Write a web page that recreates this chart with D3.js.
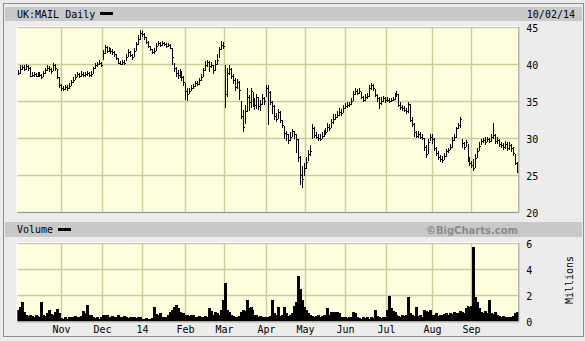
<!DOCTYPE html>
<html>
<head>
<meta charset="utf-8">
<script src="https://cdn.jsdelivr.net/npm/d3@7"></script>
<style>
  body { margin: 0; background: #ececec; }
  svg { display: block; }
  text { font-family: "DejaVu Sans Mono", monospace; font-size: 10px; fill: #000; }
</style>
</head>
<body>
<div id="chart"></div>
<script>
// trading calendar (LSE holidays in range)
var startDate = "2013-10-02", endDate = "2014-10-02";
var holidays = ["2013-12-25", "2013-12-26", "2014-01-01", "2014-04-18", "2014-04-21",
  "2014-05-05", "2014-05-26", "2014-08-25"];

// daily close, by month (Oct 13 .. Oct 14)
var closes = [
  38.8,39.3,39.6,39.3,39.7,39.5,38.4,38.5,38.6,38.4,38.7,38.5,38.3,38.8,39.2,39.5,39.3,39.0,39.8,39.4,38.2,37.2,
  36.8,36.6,36.9,36.7,37.0,37.6,37.9,38.2,38.6,38.4,38.7,38.5,38.6,38.8,38.5,38.6,39.4,39.8,40.0,40.2,39.9,
  41.5,42.3,41.8,42.0,41.7,41.6,41.4,40.8,40.2,40.0,40.3,40.1,41.0,41.6,41.2,40.9,41.8,42.7,43.4,44.2,
  44.0,43.6,43.0,42.4,42.0,41.6,41.8,42.5,42.9,42.6,42.9,42.7,42.4,42.6,42.2,41.0,39.5,38.8,38.5,38.9,38.2,37.6,
  36.4,36.0,36.4,36.8,37.0,37.4,37.3,37.8,38.3,39.2,39.9,40.3,39.7,39.9,39.2,40.0,40.6,42.0,42.6,42.4,
  36.0,38.8,39.3,38.4,37.9,36.9,37.6,36.5,33.0,31.5,33.6,35.6,34.8,36.4,35.4,34.5,35.5,34.3,34.6,35.4,35.0,
  36.8,36.2,34.9,34.3,33.0,32.6,33.5,32.4,31.8,30.7,30.5,29.7,30.2,30.9,30.5,29.8,27.4,25.0,24.4,26.0,
  26.8,27.8,28.3,31.4,30.4,30.2,30.0,29.9,30.3,30.6,30.8,31.5,31.3,32.1,32.6,32.9,33.1,33.5,33.4,34.0,
  34.3,34.5,34.6,35.0,35.9,36.4,36.1,36.3,35.5,35.2,35.6,35.7,36.7,37.2,36.7,35.8,35.4,34.7,35.0,35.4,35.1,
  35.2,35.0,35.1,35.3,35.7,36.0,34.5,34.2,34.0,33.8,33.6,34.6,32.5,31.9,30.8,30.3,30.5,30.2,30.0,28.8,27.8,29.4,30.2,
  29.8,28.6,28.0,27.4,27.2,27.0,27.6,28.2,28.4,28.8,29.7,30.2,31.3,31.7,32.6,29.3,28.8,29.4,27.1,26.6,
  26.4,26.0,27.3,28.3,28.9,29.6,29.7,29.5,29.9,29.6,30.1,30.4,29.6,29.7,29.2,29.0,28.8,29.2,28.6,29.0,28.6,28.0,
  26.6,25.6
];
var highs = [
  39.2,39.8,39.9,39.8,40.0,39.9,39.6,38.9,38.9,38.8,38.9,38.9,38.7,39.0,39.5,39.8,39.7,39.4,40.1,40.0,39.3,38.3,
  37.3,37.0,37.2,37.1,37.4,37.9,38.3,38.6,38.9,38.8,39.0,38.9,38.9,39.1,38.9,39.0,39.6,40.1,40.3,40.5,40.3,
  41.9,42.6,42.4,42.3,42.1,42.0,41.8,41.4,40.8,40.4,40.6,40.5,41.3,42.0,41.8,41.4,42.2,43.0,43.9,44.6,
  44.5,44.2,43.6,43.1,42.5,42.0,42.2,42.8,43.1,43.0,43.1,43.0,42.9,42.9,42.7,42.2,40.2,39.6,39.2,39.3,39.0,38.4,
  37.4,36.8,36.8,37.2,37.3,37.7,37.7,38.1,38.6,39.4,40.4,40.6,40.4,40.3,39.9,40.5,41.4,42.3,43.1,43.0,
  39.9,39.4,39.9,39.5,38.6,38.1,38.0,37.7,35.0,33.8,34.4,36.7,35.8,36.7,36.2,35.4,36.0,35.6,35.2,35.9,35.6,
  37.2,37.1,36.3,35.0,34.4,33.4,33.9,33.6,32.5,31.6,31.0,30.5,30.8,31.2,31.0,30.6,29.8,27.6,26.2,26.6,
  27.4,28.4,29.0,31.9,31.5,30.8,30.6,30.5,30.8,31.1,31.3,32.0,31.9,32.6,33.3,33.2,33.6,34.0,33.9,34.4,
  34.7,34.9,34.9,35.4,36.4,36.8,36.6,36.8,36.2,35.7,36.0,36.1,37.1,37.5,37.3,36.6,35.9,35.6,35.5,35.7,35.6,
  35.6,35.4,35.4,35.6,36.1,36.3,36.0,34.8,34.5,34.3,34.0,34.9,34.6,32.9,32.0,31.0,30.9,30.8,30.6,30.0,29.0,29.8,30.6,
  30.5,30.0,28.8,28.3,27.7,27.6,28.0,28.5,28.7,29.2,30.2,30.6,31.5,32.0,32.8,29.9,29.5,29.7,29.2,27.4,
  26.9,27.2,27.8,28.6,29.4,29.9,30.0,30.1,30.2,30.0,30.6,32.0,30.5,30.1,29.8,29.5,29.3,29.6,29.4,29.4,29.2,28.8,
  27.8,26.8
];
var lows = [
  38.5,38.7,39.2,39.0,39.2,39.0,38.2,38.2,38.3,38.2,38.3,38.2,38.0,38.2,38.6,39.0,38.9,38.7,39.0,39.0,38.0,36.8,
  36.4,36.3,36.5,36.4,36.6,37.0,37.5,37.9,38.2,38.1,38.3,38.2,38.3,38.4,38.2,38.3,38.6,39.3,39.6,39.8,39.6,
  40.5,41.4,41.5,41.6,41.4,41.2,41.0,40.6,40.0,39.8,39.9,39.8,40.4,40.9,40.9,40.6,40.9,41.8,42.6,43.3,
  43.6,43.3,42.7,42.2,41.7,41.3,41.4,41.7,42.4,42.3,42.5,42.4,42.2,42.3,42.0,39.8,38.9,38.2,38.0,38.1,37.7,37.0,
  35.2,35.0,35.9,36.3,36.6,36.9,37.0,37.2,37.7,38.2,39.0,39.6,38.9,39.4,38.6,39.0,39.8,40.8,41.9,42.0,
  34.0,35.6,38.5,38.0,37.3,36.4,36.6,35.2,32.6,30.8,31.9,33.5,33.6,34.0,34.2,33.8,33.9,33.8,33.7,34.4,34.5,
  35.6,31.8,34.4,33.2,32.4,32.2,32.6,32.0,31.4,29.9,29.6,29.2,29.6,30.1,29.8,28.0,26.8,23.6,23.2,24.8,
  25.8,26.9,27.6,29.9,30.0,29.8,29.6,29.6,29.9,30.1,30.4,30.8,30.9,31.4,31.9,32.4,32.7,33.0,33.0,33.4,
  33.9,34.0,34.2,34.5,35.0,35.8,35.8,35.9,35.3,34.9,35.0,35.3,35.6,36.5,36.4,35.5,34.8,33.9,34.5,34.8,34.7,
  34.8,34.7,34.8,35.0,35.2,35.5,34.2,33.8,33.6,33.5,33.3,33.4,32.1,31.5,30.2,30.0,30.0,29.8,29.7,28.2,27.3,27.9,29.6,
  29.2,28.3,27.6,27.0,26.7,26.6,27.0,27.4,28.0,28.4,28.6,29.6,30.0,31.2,31.3,28.7,28.4,28.8,26.8,26.2,
  25.9,25.6,26.0,27.3,28.3,29.1,29.3,29.1,29.4,29.3,29.5,29.8,29.2,29.2,28.8,28.6,28.4,28.5,28.3,28.4,28.1,27.6,
  26.3,25.3
];
// daily volume, millions
var volumes = [
  0.85,1.1,1.5,0.7,0.5,0.4,0.45,0.4,0.35,0.45,0.4,0.35,1.5,0.5,0.4,0.65,0.85,0.55,0.5,0.7,0.95,0.6,
  0.25,0.2,0.3,0.2,0.3,0.35,0.3,0.4,0.35,0.3,0.4,0.8,0.6,1.25,0.5,0.45,0.3,0.25,0.3,0.2,0.3,
  0.5,0.45,0.5,0.3,0.35,0.4,0.3,0.35,0.45,0.3,0.35,0.4,0.3,0.25,0.3,0.35,0.3,0.25,0.35,0.3,
  0.2,0.2,0.25,0.2,0.2,0.25,1.1,0.55,0.5,0.6,0.35,0.3,0.35,0.5,0.7,0.9,1.1,1.25,1.05,0.7,0.5,0.6,
  0.45,0.5,0.4,0.45,0.5,0.35,0.3,0.4,0.35,0.3,0.4,0.3,1.0,0.8,0.5,0.7,0.6,0.5,0.9,1.6,
  2.9,0.9,0.7,0.5,0.4,0.35,0.3,0.4,0.75,0.9,0.8,1.6,1.0,1.1,0.9,0.5,0.45,0.35,0.4,0.3,0.35,
  0.3,0.35,0.4,1.6,0.6,0.5,1.1,0.4,0.45,1.1,0.6,0.4,0.45,0.6,1.2,1.5,3.45,2.5,1.6,1.1,
  0.9,0.6,0.5,0.4,0.35,0.4,0.45,0.35,0.4,0.5,0.4,1.0,0.5,0.7,0.75,0.7,0.75,0.6,0.3,0.3,
  0.3,0.25,0.3,0.35,0.7,0.6,0.35,0.25,0.2,0.3,0.25,0.3,0.2,0.3,0.25,0.9,0.4,0.3,0.25,0.3,0.35,
  0.85,1.95,1.0,0.8,0.7,0.5,0.4,0.35,0.45,0.4,0.5,1.9,0.6,0.5,0.4,1.1,0.4,0.5,0.35,0.9,0.8,0.7,0.85,
  0.5,0.45,0.6,0.4,0.5,0.45,0.55,0.6,0.5,0.6,0.55,0.7,0.65,0.6,0.8,0.75,0.6,1.0,1.2,1.1,
  1.2,5.7,1.9,1.5,1.0,0.7,0.6,0.8,0.6,1.6,0.6,0.55,0.7,0.5,0.4,0.35,0.4,0.3,0.35,0.3,0.35,0.4,
  0.6,0.7
];
var monthLabels = ["Nov", "Dec", "14", "Feb", "Mar", "Apr", "May", "Jun", "Jul", "Aug", "Sep"];
var priceTicks = [20, 25, 30, 35, 40, 45];
var volTicks = [0, 2, 4, 6];

var W = 585, H = 341;
var plotL = 17.3, plotR = 518.3;
var priceTop = 27, priceBot = 212;
var volTop = 243, volBot = 321.3;

// build trading days
var fmt = d3.timeFormat("%Y-%m-%d");
var parse = d3.timeParse("%Y-%m-%d");
var days = d3.timeDay.range(parse(startDate), d3.timeDay.offset(parse(endDate), 1))
  .filter(function(d) { return d.getDay() != 0 && d.getDay() != 6 && holidays.indexOf(fmt(d)) < 0; });

var data = days.map(function(d, i) {
  return { date: d, key: fmt(d), close: closes[i], high: highs[i], low: lows[i], vol: volumes[i] };
});

var svg = d3.select("#chart").append("svg")
  .attr("width", W)
  .attr("height", H);

// frame and bands
svg.append("rect").attr("x", 3.5).attr("y", 3.5).attr("width", 580).attr("height", 333)
  .attr("fill", "#ececec").attr("stroke", "#8c8c8c");
svg.append("rect").attr("x", 5).attr("y", 7).attr("width", 577).attr("height", 14).attr("fill", "#c9c9c9");
svg.append("rect").attr("x", 5).attr("y", 222).attr("width", 577).attr("height", 15).attr("fill", "#c9c9c9");

var x = d3.scaleBand()
  .domain(data.map(function(d) { return d.key; }))
  .range([plotL, plotR]);
var bw = x.bandwidth();

var y = d3.scaleLinear().domain([20, 45]).range([priceBot, priceTop]);
var yv = d3.scaleLinear().domain([0, 6]).range([volBot, volTop]);

// first trading day of each month after the first
var monthStarts = data.filter(function(d, i) {
  return i > 0 && d.date.getMonth() != data[i - 1].date.getMonth() && d.date < parse("2014-09-30");
});

function panel(top, bot, yScale, ticks) {
  var g = svg.append("g");
  g.append("rect")
    .attr("x", plotL).attr("y", top)
    .attr("width", plotR - plotL).attr("height", bot - top)
    .attr("fill", "#ffffe0");
  g.selectAll(".hgrid").data(ticks).enter().append("line")
    .attr("x1", plotL).attr("x2", plotR)
    .attr("y1", function(d) { return Math.round(yScale(d)) + 0.5; })
    .attr("y2", function(d) { return Math.round(yScale(d)) + 0.5; })
    .attr("stroke", "#cccc99").attr("stroke-width", 1.5);
  g.selectAll(".vgrid").data(monthStarts).enter().append("line")
    .attr("x1", function(d) { return Math.round(x(d.key)) + 0.5; })
    .attr("x2", function(d) { return Math.round(x(d.key)) + 0.5; })
    .attr("y1", top).attr("y2", bot)
    .attr("stroke", "#cccc99").attr("stroke-width", 1.5);
  return g;
}

panel(priceTop, priceBot, y, priceTicks);
panel(volTop, volBot, yv, volTicks);

// price bars (high-low with close tick)
var bars = svg.append("g").attr("stroke", "#000").attr("stroke-width", 1).attr("shape-rendering", "crispEdges");
bars.selectAll(".hl").data(data).enter().append("line")
  .attr("x1", function(d) { return Math.floor(x(d.key) + bw / 2) + 0.5; })
  .attr("x2", function(d) { return Math.floor(x(d.key) + bw / 2) + 0.5; })
  .attr("y1", function(d) { return y(d.high); })
  .attr("y2", function(d) { return y(d.low); });
bars.selectAll(".cl").data(data).enter().append("line")
  .attr("x1", function(d) { return Math.floor(x(d.key) + bw / 2); })
  .attr("x2", function(d) { return Math.floor(x(d.key) + bw / 2) + 2; })
  .attr("y1", function(d) { return Math.round(y(d.close)) + 0.5; })
  .attr("y2", function(d) { return Math.round(y(d.close)) + 0.5; });

// volume as solid columns, no gaps
svg.append("g").attr("shape-rendering", "crispEdges")
  .selectAll("rect").data(data).enter().append("rect")
  .attr("x", function(d) { return Math.floor(x(d.key)); })
  .attr("width", function(d) { return Math.ceil(x(d.key) + bw) - Math.floor(x(d.key)); })
  .attr("y", function(d) { return Math.round(yv(d.vol)); })
  .attr("height", function(d) { return volBot - Math.round(yv(d.vol)); })
  .attr("fill", "#000");

// panel borders
[[priceTop, priceBot], [volTop, volBot]].forEach(function(p) {
  svg.append("path")
    .attr("d", "M" + plotL + "," + (p[1] + 0.5) + "H" + (plotR + 0.5) + "V" + p[0])
    .attr("fill", "none").attr("stroke", "#999");
  svg.append("path")
    .attr("d", "M" + (plotL - 0.5) + "," + p[1] + "V" + (p[0] - 0.5) + "H" + plotR)
    .attr("fill", "none").attr("stroke", "#fff");
});

// axes
var priceAxis = d3.axisRight(y).tickValues(priceTicks).tickSize(0).tickPadding(8).tickFormat(d3.format("d"));
svg.append("g").attr("transform", "translate(" + plotR + ",0)").call(priceAxis)
  .call(function(g) { g.select(".domain").remove(); })
  .selectAll("text").attr("font-family", "DejaVu Sans Mono").attr("font-size", 10).attr("dy", "0.4em");

var volAxis = d3.axisRight(yv).tickValues(volTicks).tickSize(0).tickPadding(8).tickFormat(d3.format("d"));
svg.append("g").attr("transform", "translate(" + plotR + ",0)").call(volAxis)
  .call(function(g) { g.select(".domain").remove(); })
  .selectAll("text").attr("font-family", "DejaVu Sans Mono").attr("font-size", 10).attr("dy", "0.45em");

svg.append("g").selectAll("text").data(monthStarts).enter().append("text")
  .attr("x", function(d) { return Math.round(x(d.key)) + 0.5; })
  .attr("y", 333)
  .attr("text-anchor", "middle")
  .text(function(d, i) { return monthLabels[i]; });

// titles
svg.append("text").attr("x", 17).attr("y", 17.5).text("UK:MAIL Daily");
svg.append("rect").attr("x", 100).attr("y", 12).attr("width", 13).attr("height", 3).attr("fill", "#000");
svg.append("text").attr("x", 575).attr("y", 17.5).attr("text-anchor", "end").text("10/02/14");

svg.append("text").attr("x", 17).attr("y", 233).text("Volume");
svg.append("rect").attr("x", 58).attr("y", 228).attr("width", 13).attr("height", 3).attr("fill", "#000");
svg.append("text").attr("x", 518).attr("y", 233.5).attr("text-anchor", "end")
  .style("font-family", "'DejaVu Sans', sans-serif").style("font-weight", "bold").style("fill", "#8a8a8a")
  .text("\u00a9BigCharts.com");

svg.append("text")
  .attr("transform", "translate(573,280) rotate(-90)")
  .attr("text-anchor", "middle")
  .text("Millions");
</script>
</body>
</html>
